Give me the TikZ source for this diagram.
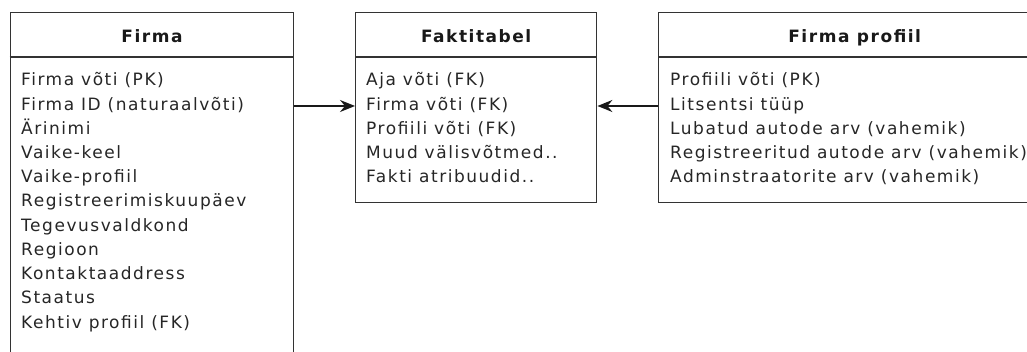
\documentclass[tikz,border=0pt]{standalone}
\usepackage{fontspec}
\setmainfont{DejaVu Sans}[LetterSpace=9]
\usetikzlibrary{arrows.meta,positioning}

\tikzset{
  tablebox/.style={draw=black!80, line width=1.4pt, inner sep=0pt, anchor=north west},
  tablerule/.style={draw=black!80, line width=1.4pt},
  tabletitle/.style={font=\fontsize{17}{20}\selectfont\bfseries, text=black!90, inner sep=0pt, anchor=base},
  tablerow/.style={font=\fontsize{17}{20}\selectfont, text=black!85, inner sep=0pt, anchor=base west},
  link/.style={line width=1.4pt, black!90, -{Stealth[length=15pt,width=12pt,inset=5pt]}},
}

\begin{document}
\begin{tikzpicture}[x=1pt,y=-1pt]
\useasboundingbox (0,0) rectangle (1027,352);
\clip (0,0) rectangle (1027,352);

\node[tablebox, minimum width=283.5pt, minimum height=360pt] (firma) at (9.5,12) {};
\node[tabletitle] (firmatitle) at (firma.north |- 0,43) {Firma};
\draw[tablerule] (firma.west |- 0,57) -- (firma.east |- 0,57);
\foreach \t [count=\i] in {Firma võti (PK), Firma ID (naturaalvõti), Ärinimi, Vaike-keel,
  Vaike-profiil, Registreerimiskuupäev, Tegevusvaldkond, Regioon, Kontaktaaddress,
  Staatus, Kehtiv profiil (FK)}
  \node[tablerow] (firma-\i) at (21,{86+24.2*(\i-1)}) {\t};

\node[tablebox, minimum width=241pt, minimum height=190pt] (fakt) at (355,12) {};
\node[tabletitle] (fakttitle) at (fakt.north |- 0,43) {Faktitabel};
\draw[tablerule] (fakt.west |- 0,57) -- (fakt.east |- 0,57);
\foreach \t [count=\i] in {Aja võti (FK), Firma võti (FK), Profiili võti (FK),
  Muud välisvõtmed.., Fakti atribuudid..}
  \node[tablerow] (fakt-\i) at (366,{86+24.2*(\i-1)}) {\t};

\node[tablebox, minimum width=392pt, minimum height=190pt] (profiil) at (658,12) {};
\node[tabletitle] (profiiltitle) at (profiil.north |- 0,43) {Firma profiil};
\draw[tablerule] (profiil.west |- 0,57) -- (profiil.east |- 0,57);
\foreach \t [count=\i] in {Profiili võti (PK), Litsentsi tüüp, Lubatud autode arv (vahemik),
  Registreeritud autode arv (vahemik), Adminstraatorite arv (vahemik)}
  \node[tablerow] (profiil-\i) at (670,{86+24.2*(\i-1)}) {\t};

\coordinate (linkrow) at (0,106);
\draw[link] (firma.east |- linkrow) -- (fakt.west |- linkrow);
\draw[link] (profiil.west |- linkrow) -- (fakt.east |- linkrow);

\end{tikzpicture}
\end{document}
